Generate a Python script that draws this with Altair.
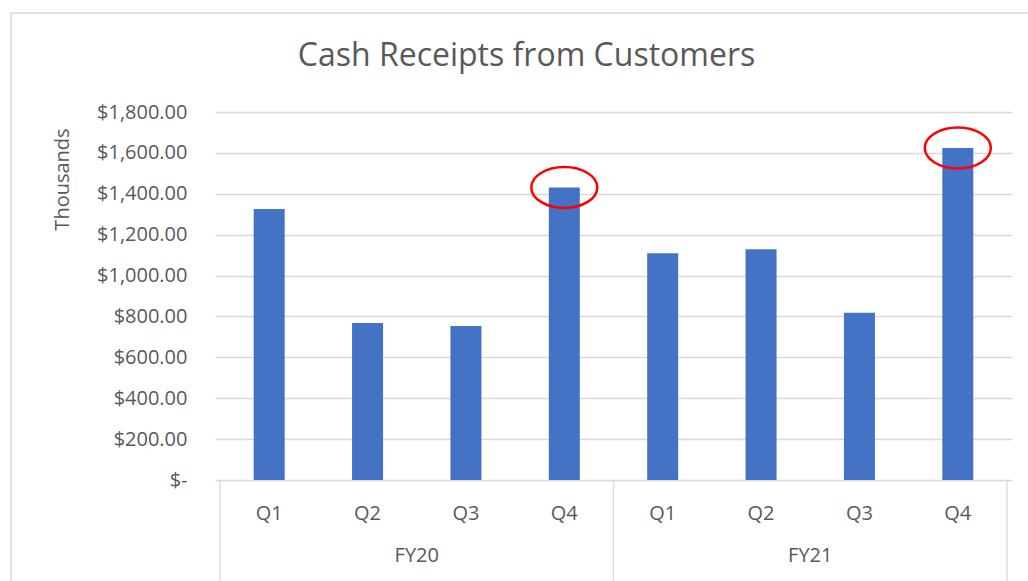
import altair as alt
import pandas as pd

# ---- data ----
fiscal_years = ["FY20", "FY20", "FY20", "FY20", "FY21", "FY21", "FY21", "FY21"]
quarters = ["Q1", "Q2", "Q3", "Q4", "Q1", "Q2", "Q3", "Q4"]
receipts = [1325, 768, 753, 1431, 1109, 1129, 818, 1624]
circled = [False, False, False, True, False, False, False, True]
y_ticks = [0, 200, 400, 600, 800, 1000, 1200, 1400, 1600, 1800]

df = pd.DataFrame({
    "fy": fiscal_years,
    "quarter": quarters,
    "value": receipts,
    "circled": circled,
})
df["pos"] = range(len(df))

groups = df.groupby("fy", sort=False)["pos"].agg(["min", "max"]).reset_index()
groups["center"] = (groups["min"] + groups["max"]) / 2
fy_df = groups[["fy", "center"]]
bounds = sorted(set(list(groups["min"] - 0.5) + list(groups["max"] + 0.5)))
div_df = pd.DataFrame({"b": bounds})

W, H = 797, 368
TEXT = "#595959"
GRID = "#d9d9d9"
FONT = "Open Sans"

xscale = alt.Scale(domain=[-0.5, len(df) - 0.5], nice=False, zero=False)
yscale = alt.Scale(domain=[0, 1800], nice=False)

border = alt.Chart(alt.Data(values=[{"k": 1}])).mark_rect(
    fillOpacity=0, stroke=GRID, strokeWidth=1.5
).encode(
    x=alt.value(-204), x2=alt.value(W + 60),
    y=alt.value(-99), y2=alt.value(H + 160),
)

bars = alt.Chart(df).mark_bar(width=31, color="#4472c4").encode(
    x=alt.X("pos:Q", scale=xscale, axis=None),
    y=alt.Y(
        "value:Q",
        scale=yscale,
        axis=alt.Axis(
            values=y_ticks,
            labelExpr="datum.value == 0 ? '$-\u00a0\u00a0' : '$' + format(datum.value, ',.2f')",
            grid=True, gridColor=GRID, gridWidth=1.3,
            domain=False, ticks=False, labelPadding=28,
            labelColor=TEXT, labelFontSize=20, labelFont=FONT,
            title="Thousands", titleColor=TEXT, titleFontSize=20,
            titleFont=FONT, titleFontWeight="normal",
            titleAngle=270, titleX=-153, titleY=67,
            titleAlign="center", titleBaseline="middle",
        ),
    ),
)

ellipse_path = "M-1,0A1,0.62,0,1,1,1,0A1,0.62,0,1,1,-1,0Z"
rings = alt.Chart(df).transform_filter("datum.circled").mark_point(
    shape=ellipse_path, filled=False, stroke="#ff0000", strokeWidth=2.5,
    size=66 * 66, opacity=1,
).encode(
    x=alt.X("pos:Q", scale=xscale),
    y=alt.Y("value:Q", scale=yscale),
)

q_labels = alt.Chart(df).mark_text(
    fontSize=20, color=TEXT, font=FONT, baseline="middle", align="center"
).encode(
    x=alt.X("pos:Q", scale=xscale),
    y=alt.value(H + 34),
    text="quarter:N",
)

fy_labels = alt.Chart(fy_df).mark_text(
    fontSize=20, color=TEXT, font=FONT, baseline="middle", align="center"
).encode(
    x=alt.X("center:Q", scale=xscale),
    y=alt.value(H + 76),
    text="fy:N",
)

dividers = alt.Chart(div_df).mark_rule(color=GRID, strokeWidth=1.3).encode(
    x=alt.X("b:Q", scale=xscale),
    y=alt.value(H),
    y2=alt.value(H + 110),
)

chart = alt.layer(border, bars, rings, dividers, q_labels, fy_labels).properties(
    width=W,
    height=H,
    background="white",
    title=alt.TitleParams(
        "Cash Receipts from Customers",
        fontSize=32, font=FONT, fontWeight="normal", color=TEXT,
        anchor="middle", frame="group", dx=-87, offset=-86,
        baseline="alphabetic",
    ),
    autosize=alt.AutoSizeParams(type="none"),
    padding={"left": 215, "top": 112, "right": 16, "bottom": 101},
).configure_view(stroke="transparent", strokeWidth=0)

chart.save("out.html", embed_options={"renderer": "svg", "actions": False})
